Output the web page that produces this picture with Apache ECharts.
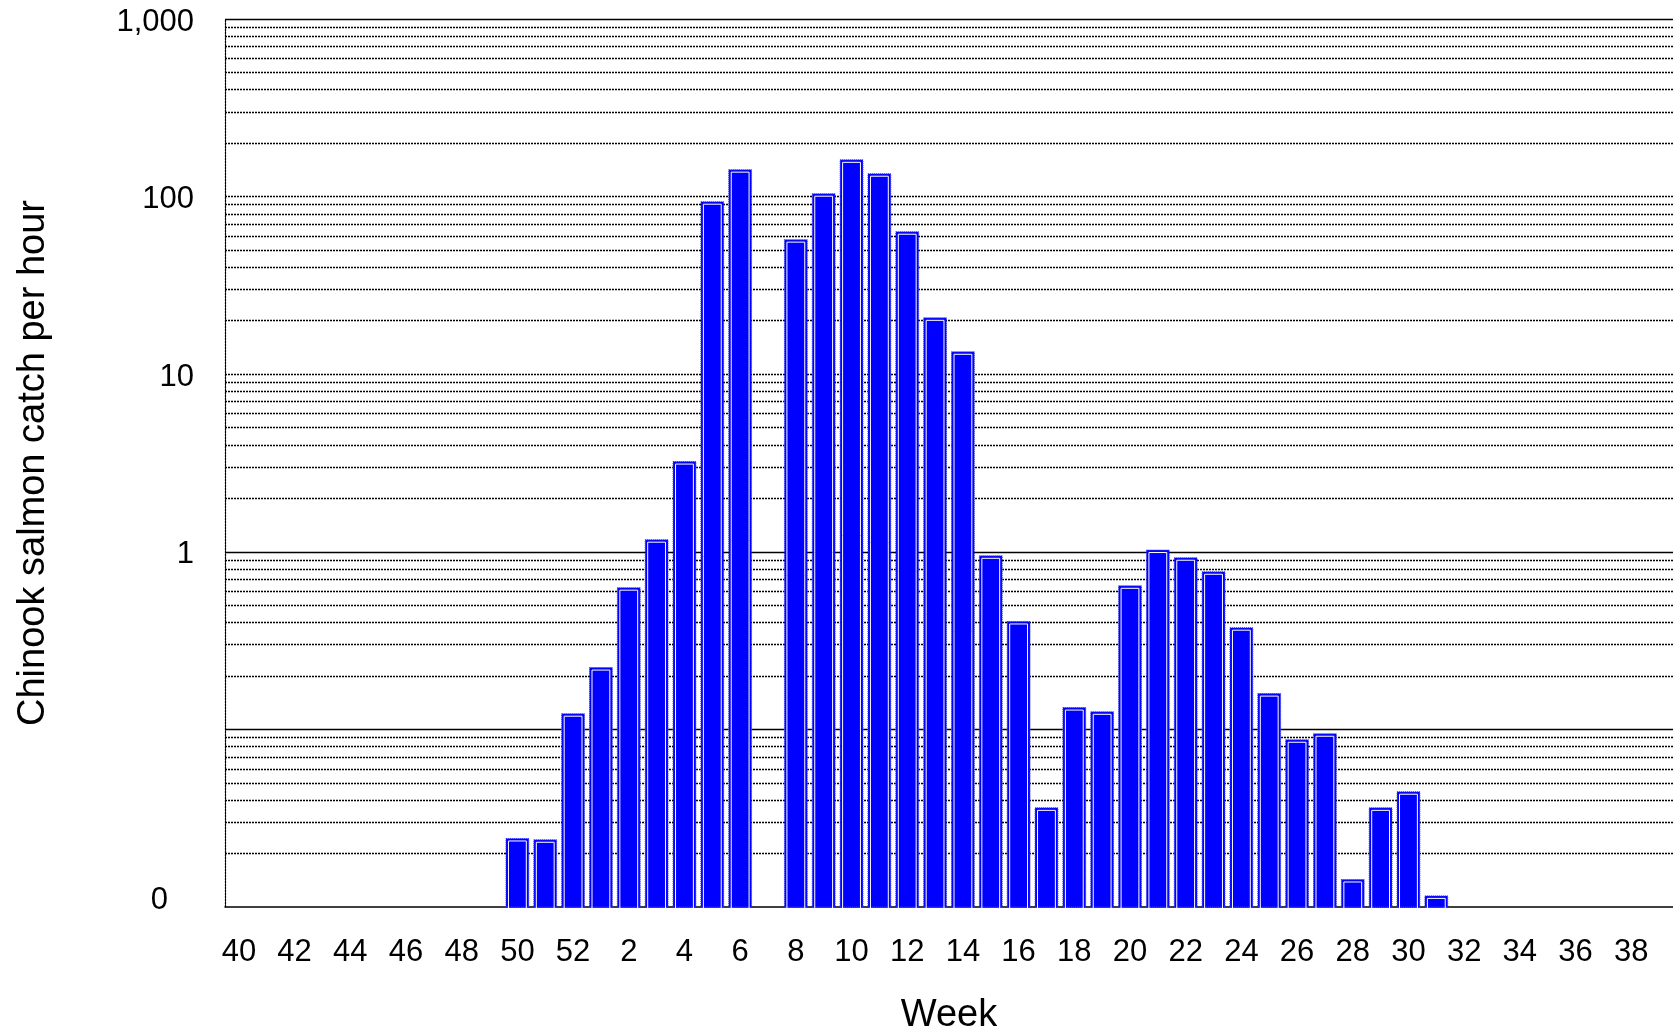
<!DOCTYPE html>
<html>
<head>
<meta charset="utf-8">
<script src="https://cdn.jsdelivr.net/npm/echarts@6/dist/echarts.min.js"></script>
<style>
html,body{margin:0;padding:0;background:#fff;}
#chart{width:1673px;height:1031px;}
</style>
</head>
<body>
<div id="chart"></div>
<script>
// Week categories (season runs week 40 through week 39 of next year)
const weeks = [40,41,42,43,44,45,46,47,48,49,50,51,52,
  1,2,3,4,5,6,7,8,9,10,11,12,13,14,15,16,17,18,19,20,
  21,22,23,24,25,26,27,28,29,30,31,32,33,34,35,36,37,38,39];

// Chinook salmon catch per hour (null = no catch shown)
const catchPerHour = [null,null,null,null,null,null,null,null,null,null,0.024,0.0236,0.121,
  0.22,0.62,1.155,3.18,92.4,140,null,56.5,102.5,159,132.8,62.6,20.5,13.2,0.937,0.40,0.0357,0.131,
  0.124,0.635,1.01,0.914,0.762,0.369,0.157,0.0863,0.0933,0.0141,0.0357,0.044,0.0114,
  null,null,null,null,null,null,null,null];

// Y axis labelled ticks
const yLabelValues = [0.01, 1, 10, 100, 1000];
const yLabelTexts = ['0', '1', '10', '100', '1,000'];

// Y axis range
const yMin = 0.01, yMax = 1000;

// Horizontal grid lines (log minor lines)
const solidGridValues = [0.1, 1, 1000];
const dottedGridValues = [0.02,0.03,0.04,0.05,0.06,0.07,0.08,0.09,
  0.2,0.3,0.4,0.5,0.6,0.7,0.8,0.9,
  2,3,4,5,6,7,8,9,10,20,30,40,50,60,70,80,90,
  100,200,300,400,500,600,700,800,900];

const FONT = '"Liberation Sans", Arial, sans-serif';

const barData = [];
catchPerHour.forEach(function(v, i){ if (v != null) barData.push([i, v]); });

const gridLines = [];
solidGridValues.forEach(function(v){ gridLines.push({yAxis: v, lineStyle: {type: 'solid', color: '#000', width: 1.3}}); });
dottedGridValues.forEach(function(v){ gridLines.push({yAxis: v, lineStyle: {type: [2, 1], color: '#000', width: 1.4}}); });

const chart = echarts.init(document.getElementById('chart'), null, {renderer: 'canvas'});
chart.setOption({
  animation: false,
  backgroundColor: '#fff',
  grid: {left: 225, right: 0, top: 19, bottom: 124, containLabel: false, outerBoundsMode: 'none'},
  xAxis: {
    type: 'category',
    data: weeks.map(String),
    boundaryGap: true,
    axisLine: {show: true, lineStyle: {color: '#000', width: 1.5}},
    axisTick: {show: false},
    splitLine: {show: false},
    axisLabel: {interval: 1, margin: 30, fontSize: 31, color: '#000', fontFamily: FONT},
    name: 'Week',
    nameLocation: 'middle',
    nameGap: 90,
    nameTextStyle: {fontSize: 38, color: '#000', fontFamily: FONT}
  },
  yAxis: {
    type: 'log',
    logBase: 10,
    min: yMin,
    max: yMax,
    axisLine: {show: true, lineStyle: {color: '#000', width: 1.2, type: [2, 1]}},
    axisTick: {show: false},
    splitLine: {show: false},
    axisLabel: {
      margin: 31, fontSize: 31, color: '#000', fontFamily: FONT,
      padding: [6, 0, 0, 0],
      showMinLabel: true, showMaxLabel: true,
      formatter: function(v){
        for (let i = 0; i < yLabelValues.length; i++) {
          if (Math.abs(Math.log10(v) - Math.log10(yLabelValues[i])) < 1e-6) {
            return i === 0 ? '{z|' + yLabelTexts[i] + '}' : yLabelTexts[i];
          }
        }
        return '';
      },
      rich: {z: {fontSize: 31, color: '#000', fontFamily: FONT, padding: [0, 26, 20, 0]}}
    },
    name: 'Chinook salmon catch per hour',
    nameLocation: 'middle',
    nameGap: 172,
    nameTextStyle: {fontSize: 38, color: '#000', fontFamily: FONT}
  },
  series: [{
    type: 'custom',
    z: 3,
    encode: {x: 0, y: 1},
    data: barData,
    renderItem: function(params, api){
      const idx = api.value(0);
      const v = api.value(1);
      if (v == null || isNaN(v)) return;
      const top = api.coord([idx, v]);
      const base = api.coord([idx, yMin]);
      const band = api.size([1, 0])[0];
      const w = band * 0.82;
      const x = top[0] - w / 2;
      return {
        type: 'group',
        children: [
          {type: 'rect', shape: {x: x, y: top[1] - 1, width: w, height: base[1] - top[1] + 1},
           style: {fill: '#0000ff', stroke: '#3b3bff', lineWidth: 1, lineDash: [1, 1]}},
          {type: 'rect', shape: {x: x + 2.5, y: top[1] + 1.5, width: w - 5, height: base[1] - top[1]},
           style: {fill: 'none', stroke: '#ffffff', lineWidth: 1}}
        ]
      };
    },
    markLine: {
      silent: true,
      z: 1,
      symbol: ['none', 'none'],
      label: {show: false},
      emphasis: {disabled: true},
      animation: false,
      data: gridLines
    }
  }]
});
</script>
</body>
</html>
